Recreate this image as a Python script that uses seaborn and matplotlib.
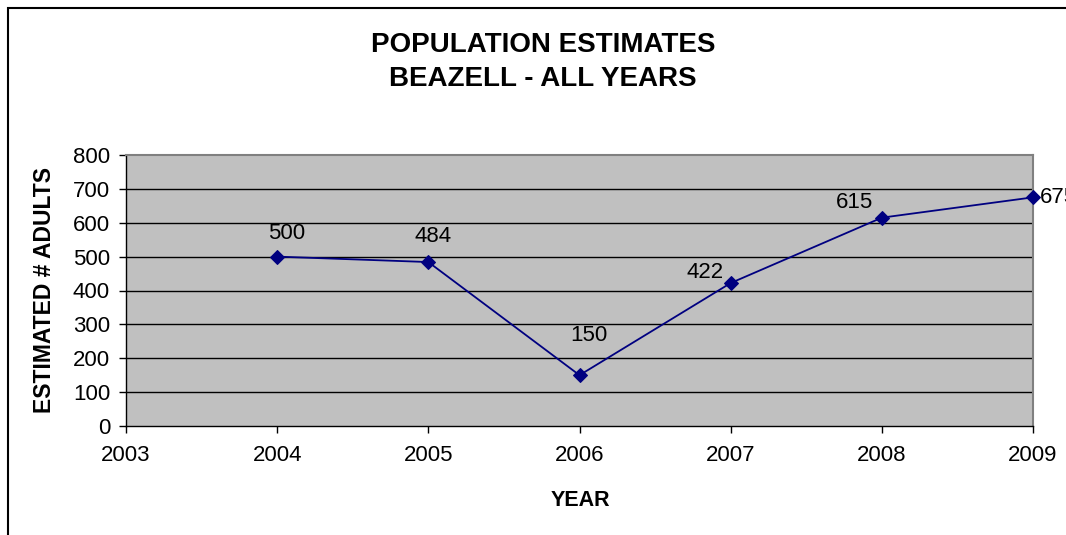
import matplotlib
matplotlib.use("Agg")
import matplotlib.pyplot as plt
import matplotlib.patches as patches
import seaborn as sns
import pandas as pd

# Data
years = [2004, 2005, 2006, 2007, 2008, 2009]
adults = [500, 484, 150, 422, 615, 675]
labels = ["500", "484", "150", "422", "615", "675"]
# label offsets in pixels (dx, dy) relative to each point, and horizontal alignment
label_offsets = [(9, 23), (5, 26), (9, 40), (-26, 11), (-27, 15), (7, 0)]
label_align = ["center", "center", "center", "center", "center", "left"]
x_ticks = [2003, 2004, 2005, 2006, 2007, 2008, 2009]
y_ticks = [0, 100, 200, 300, 400, 500, 600, 700, 800]

sns.set_theme(style="white")
plt.rcParams["font.family"] = ["Liberation Sans", "DejaVu Sans"]
plt.rcParams["text.color"] = "black"

W, H = 1066, 535
fig = plt.figure(figsize=(W / 100, H / 100), dpi=100)
ax = fig.add_axes([126 / W, 1 - 426 / H, (1033 - 126) / W, (426 - 155) / H])
ax.set_facecolor("#C0C0C0")

df = pd.DataFrame({"year": years, "adults": adults})
sns.lineplot(data=df, x="year", y="adults", ax=ax, color="#000080",
             linewidth=1.3, marker="D", markersize=7,
             markeredgecolor="#000080", clip_on=False, zorder=5)

for x, y, t, (dx, dy), ha in zip(years, adults, labels, label_offsets, label_align):
    ax.annotate(t, (x, y), xytext=(dx, dy), textcoords="offset pixels",
                ha=ha, va="center", fontsize=16, color="black",
                annotation_clip=False)

ax.set_xlim(2003, 2009)
ax.set_ylim(0, 800)
ax.set_xticks(x_ticks)
ax.set_yticks(y_ticks)
ax.set_xticklabels([str(v) for v in x_ticks])
ax.set_yticklabels([str(v) for v in y_ticks])
ax.tick_params(axis="both", which="major", direction="out", length=5, width=1,
               color="black", labelsize=16, labelcolor="black")
ax.tick_params(axis="x", pad=8.5, bottom=True)
ax.tick_params(axis="y", pad=6.5, left=True)

ax.grid(False)
for v in y_ticks[1:-1]:
    ax.axhline(v, color="black", linewidth=1, zorder=1)

for side in ["top", "right"]:
    ax.spines[side].set_color("#808080")
    ax.spines[side].set_linewidth(1.5)
for side in ["left", "bottom"]:
    ax.spines[side].set_color("black")
    ax.spines[side].set_linewidth(1)

ax.set_xlabel("")
ax.set_ylabel("")
fig.text(580 / W, 1 - 500 / H, "YEAR", ha="center", va="center",
         fontsize=15.5, fontweight="bold", color="black")
fig.text(45 / W, 1 - 290 / H, "ESTIMATED # ADULTS", ha="center", va="center",
         rotation=90, fontsize=16.5, fontweight="bold", color="black")
fig.text(543 / W, 1 - 45 / H, "POPULATION ESTIMATES", ha="center", va="center",
         fontsize=20, fontweight="bold", color="black")
fig.text(543 / W, 1 - 79 / H, "BEAZELL - ALL YEARS", ha="center", va="center",
         fontsize=20, fontweight="bold", color="black")

# chart area border (right/bottom edges fall outside the image)
fig.patches.append(patches.Rectangle((8 / W, -0.1), 1.2, 1.1 - 8 / H,
                                     transform=fig.transFigure, fill=False,
                                     edgecolor="black", linewidth=1.5))

fig.savefig("out.png", dpi=100)
